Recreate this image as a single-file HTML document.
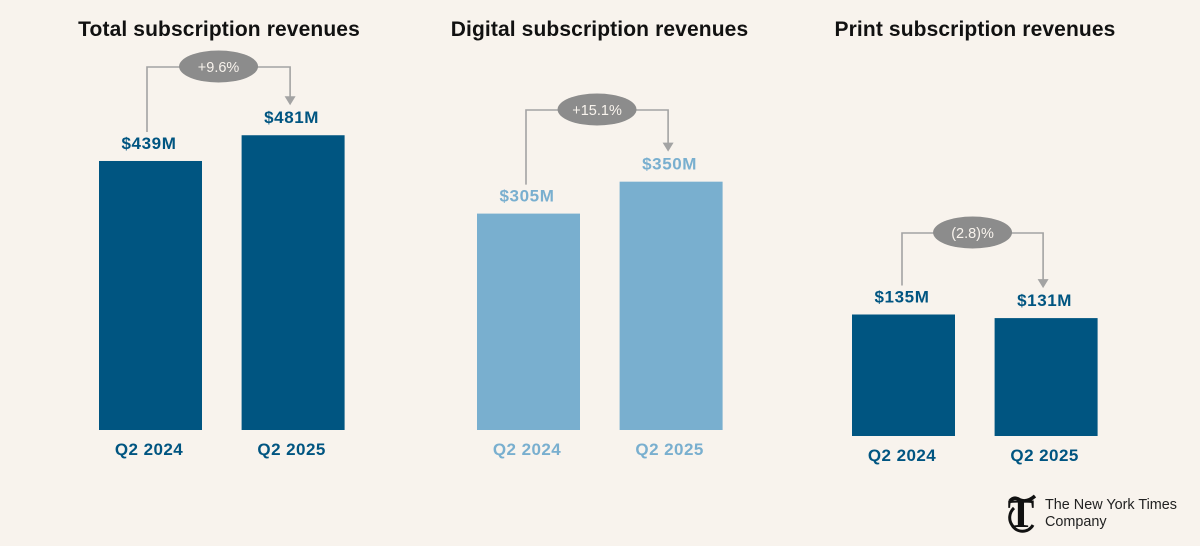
<!DOCTYPE html>
<html lang="en">
<head>
<meta charset="utf-8">
<title>Subscription revenues</title>
<style>
html,body{margin:0;padding:0;background:#f8f3ed;}
body{width:1200px;height:546px;overflow:hidden;position:relative;}
svg{display:block;position:absolute;left:0;top:0;font-family:"Liberation Sans",sans-serif;}
</style>
</head>
<body>
<svg id="chart" width="1200" height="546" viewBox="0 0 1200 546" xmlns="http://www.w3.org/2000/svg">
  <rect width="1200" height="546" fill="#f8f3ed"/>
  <g>
    <text x="1021" y="527" text-anchor="middle" font-family="'Liberation Serif',serif" font-weight="700" font-size="40" fill="#111">T</text>
    <path d="M1010 501q4-5 10-1q7 3 15-4" fill="none" stroke="#111" stroke-width="3.5"/>
    <path d="M1014 508a13 13 0 0 0 -2 17a12 12 0 0 0 21 0" fill="none" stroke="#111" stroke-width="3"/>
    <text x="1045" y="509" font-size="14.4" fill="#222">The New York Times</text>
    <text x="1045" y="526" font-size="14.4" fill="#222">Company</text>
  </g>
</svg>
<script>
var periods = ["Q2 2024", "Q2 2025"];
var totalValues = [439, 481];
var digitalValues = [305, 350];
var printValues = [135, 131];
var totalChange = "+9.6%";
var digitalChange = "+15.1%";
var printChange = "(2.8)%";
var titles = ["Total subscription revenues", "Digital subscription revenues", "Print subscription revenues"];

var NS = "http://www.w3.org/2000/svg";
var svg = document.getElementById("chart");

function make(parent, tag, attrs, text) {
  var el = document.createElementNS(NS, tag);
  for (var k in attrs) el.setAttribute(k, attrs[k]);
  if (text !== undefined) el.textContent = text;
  parent.appendChild(el);
  return el;
}

function drawPanel(cfg) {
  var g = make(svg, "g", {});
  
  

  var yScale = function (v) { return cfg.baseline - v * cfg.pxPerUnit; };
  var xScale = function (i) { return cfg.firstBarX + i * 142.6; };
  var barW = 103;

  var title = make(g, "text", {x: cfg.titleX, y: 36, "text-anchor": "middle", "font-size": 21, "font-weight": 700, fill: "#111", "letter-spacing": "0.12"}, cfg.title);
  
  

  cfg.values.forEach(function (v, i) {
    var top = yScale(v);
    var bar = make(g, "rect", {x: xScale(i), y: top, width: barW, height: cfg.baseline - top, fill: cfg.color});
    
    

    var val = make(g, "text", {x: xScale(i) + barW / 2 - 1.5, y: top - 12, "text-anchor": "middle", "font-size": 17, "font-weight": 700, fill: cfg.color, "letter-spacing": "0.6"}, "$" + v + "M");
    
    

    var cat = make(g, "text", {x: xScale(i) + barW / 2 - 1.5, y: cfg.baseline + 25, "text-anchor": "middle", "font-size": 17, "font-weight": 700, fill: cfg.color, "letter-spacing": "0.45"}, periods[i]);
    
    
  });

  var xL = xScale(0) + cfg.startOffset;
  var xR = xScale(1) + 48.5;
  var yC = cfg.connectorY;
  var startY = yScale(cfg.values[0]) - 29;
  var tipY = yScale(cfg.values[1]) - 30;

  var line = make(g, "path", {d: "M" + xL + " " + startY + "V" + yC + "H" + xR + "V" + (tipY - 8), fill: "none", stroke: "#a3a3a3", "stroke-width": 1.6});
  
  

  var head = make(g, "path", {d: "M" + (xR - 5.5) + " " + (tipY - 9) + "H" + (xR + 5.5) + "L" + xR + " " + tipY + "Z", fill: "#a3a3a3"});
  
  

  var cx = (xL + xR) / 2;
  var oval = make(g, "ellipse", {cx: cx, cy: yC - 0.5, rx: 39.5, ry: 16, fill: "#8c8c8c"});
  
  

  var pct = make(g, "text", {x: cx, y: yC + 5, "text-anchor": "middle", "font-size": 14.5, fill: "#f8f3ed"}, cfg.change);
  
  
}

drawPanel({key: "total", title: titles[0], titleX: 219, values: totalValues, change: totalChange, color: "#005581", firstBarX: 99, baseline: 430, pxPerUnit: 0.6128, connectorY: 67, startOffset: 48});
drawPanel({key: "digital", title: titles[1], titleX: 599.5, values: digitalValues, change: digitalChange, color: "#79afcf", firstBarX: 477, baseline: 430, pxPerUnit: 0.7095, connectorY: 110, startOffset: 49});
drawPanel({key: "print", title: titles[2], titleX: 975, values: printValues, change: printChange, color: "#005581", firstBarX: 852, baseline: 436, pxPerUnit: 0.9, connectorY: 233, startOffset: 50});
</script>
</body>
</html>
